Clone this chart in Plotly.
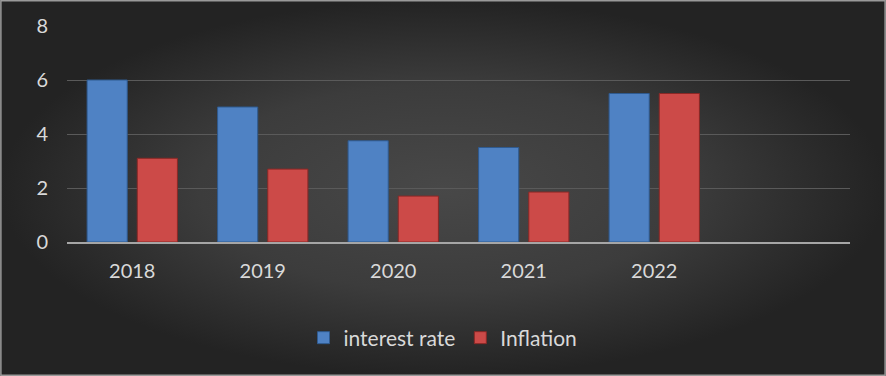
import plotly.graph_objects as go

years = ["2018", "2019", "2020", "2021", "2022"]
interest_rate = [6.0, 5.0, 3.75, 3.5, 5.5]
inflation = [3.1, 2.7, 1.7, 1.85, 5.5]
y_ticks = [0, 2, 4, 6, 8]

font_family = "Lato, 'Open Sans', sans-serif"
text_color = "#d9d9d9"
W, H = 886, 376

fig = go.Figure()
# background panel with radial gradient (style only)
fig.add_trace(go.Scatter(
    x=[0, 1, 1, 0, 0], y=[0, 0, 1, 1, 0], mode="lines",
    line=dict(width=0), fill="toself",
    fillgradient=dict(type="radial",
                      colorscale=[[0, "#484848"], [0.55, "#3c3c3c"], [1, "#232323"]]),
    xaxis="x", yaxis="y", showlegend=False, hoverinfo="skip",
))
fig.add_trace(go.Bar(
    name="interest rate", x=years, y=interest_rate, xaxis="x2", yaxis="y2",
    marker=dict(color="#4f82c4", line=dict(color="#2f5a8f", width=1)),
))
fig.add_trace(go.Bar(
    name="Inflation", x=years, y=inflation, xaxis="x2", yaxis="y2",
    marker=dict(color="#cc4a48", line=dict(color="#8a2826", width=1)),
))

fig.update_layout(
    width=W, height=H,
    margin=dict(l=0, r=0, t=0, b=0, autoexpand=False),
    paper_bgcolor="#363636",
    plot_bgcolor="rgba(0,0,0,0)",
    barmode="group",
    bargap=0.2308,
    bargroupgap=0.2,
    font=dict(family=font_family, color=text_color, size=20),
    showlegend=True,
    legend=dict(
        orientation="h", x=0.5, xref="container", xanchor="center",
        y=1 - 338 / H, yref="container", yanchor="middle",
        font=dict(size=21, color=text_color), bgcolor="rgba(0,0,0,0)",
        itemwidth=30, traceorder="normal",
    ),
    xaxis=dict(domain=[0, 1], range=[0, 1], visible=False, fixedrange=True),
    yaxis=dict(domain=[0, 1], range=[0, 1], visible=False, fixedrange=True),
    xaxis2=dict(
        domain=[67 / W, 850 / W], anchor="y2",
        type="category", range=[-0.5, 5.5], showgrid=False,
        showline=True, linecolor="#a6a6a6", linewidth=2,
        ticks="", tickfont=dict(size=20, color=text_color),
        ticklabelstandoff=10, zeroline=False,
    ),
    yaxis2=dict(
        domain=[134 / H, 350 / H], anchor="x2",
        range=[0, 8], tickvals=y_ticks, showgrid=True,
        gridcolor="#5a5a5a", gridwidth=1, zeroline=False,
        showline=False, ticks="", tickfont=dict(size=20, color=text_color),
        ticklabelstandoff=18,
    ),
    shapes=[dict(
        type="rect", xref="paper", yref="paper",
        x0=0.001, x1=0.999, y0=0.002, y1=0.998,
        line=dict(color="#9a9a9a", width=1.5), fillcolor="rgba(0,0,0,0)",
        layer="above",
    )],
)

fig.write_html("out.html")
